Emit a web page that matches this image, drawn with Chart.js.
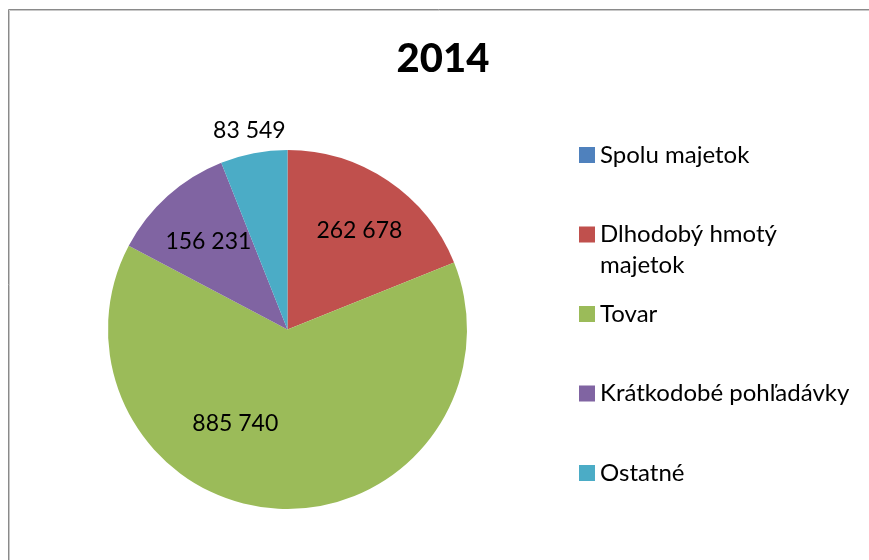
<!DOCTYPE html>
<html>
<head>
<meta charset="utf-8">
<script src="https://cdn.jsdelivr.net/npm/chart.js@4"></script>
<style>
  html, body { margin: 0; padding: 0; background: #fff; }
  #box { width: 869px; height: 560px; position: relative; }
</style>
</head>
<body>
<div id="box"><canvas id="pieChart" width="869" height="560"></canvas></div>
<script>
var chartTitle = "2014";
var categories = ["Spolu majetok", "Dlhodobý hmotý majetok", "Tovar", "Krátkodobé pohľadávky", "Ostatné"];
var legendLines = [["Spolu majetok"], ["Dlhodobý hmotý", "majetok"], ["Tovar"], ["Krátkodobé pohľadávky"], ["Ostatné"]];
var values = [0, 262678, 885740, 156231, 83549];
var valueLabels = ["", "262 678", "885 740", "156 231", "83 549"];
var colors = ["#4F81BD", "#C0504D", "#9BBB59", "#8064A2", "#4BACC6"];

// label placement relative to slice: [angle shift in degrees, radius factor]
var labelPlace = [[0, 0], [2, 0.68], [26, 0.6], [0, 0.66], [0, 1.13]];

var fontName = "Lato, 'Open Sans', sans-serif";

var decorPlugin = {
    id: "decor",
    beforeDraw: function (chart) {
        var ctx = chart.ctx;
        ctx.save();
        ctx.fillStyle = "#ffffff";
        ctx.fillRect(0, 0, chart.width, chart.height);
        ctx.strokeStyle = "#8a8a8a";
        ctx.lineWidth = 1;
        ctx.beginPath();
        ctx.moveTo(8.5, chart.height);
        ctx.lineTo(8.5, 9.5);
        ctx.lineTo(chart.width, 9.5);
        ctx.stroke();
        ctx.strokeStyle = "#c8c8c8";
        ctx.beginPath();
        ctx.moveTo(9.5, chart.height);
        ctx.lineTo(9.5, 10.5);
        ctx.lineTo(chart.width, 10.5);
        ctx.stroke();
        ctx.restore();
    },
    afterDraw: function (chart) {
        var ctx = chart.ctx;
        ctx.save();
        // title
        ctx.fillStyle = "#000";
        ctx.font = "900 40px " + fontName;
        ctx.textAlign = "center";
        ctx.textBaseline = "middle";
        ctx.fillText(chartTitle, 443, 59);

        // value labels
        ctx.font = "23px " + fontName;
        var meta = chart.getDatasetMeta(0);
        meta.data.forEach(function (arc, i) {
            if (!valueLabels[i]) return;
            var p = arc.getProps(["x", "y", "startAngle", "endAngle", "outerRadius"], true);
            var mid = (p.startAngle + p.endAngle) / 2 + labelPlace[i][0] * Math.PI / 180;
            var r = p.outerRadius * labelPlace[i][1];
            ctx.fillText(valueLabels[i], p.x + Math.cos(mid) * r, p.y + Math.sin(mid) * r);
        });

        // legend
        var lx = 579, ly = 155, step = 79.5;
        ctx.font = "24px " + fontName;
        ctx.textAlign = "left";
        legendLines.forEach(function (lines, i) {
            var y = ly + i * step;
            ctx.fillStyle = colors[i];
            ctx.fillRect(lx, y - 8, 16, 16);
            ctx.fillStyle = "#000";
            lines.forEach(function (t, k) {
                ctx.fillText(t, lx + 21, y + k * 31);
            });
        });
        ctx.restore();
    }
};

var pieChart = new Chart(document.getElementById("pieChart"), {
    type: "pie",
    data: {
        labels: categories,
        datasets: [{
            data: values,
            backgroundColor: colors,
            borderWidth: 0
        }]
    },
    options: {
        responsive: false,
        animation: false,
        layout: {
            padding: { top: 150, bottom: 51, left: 108, right: 402 }
        },
        plugins: {
            legend: { display: false },
            tooltip: { enabled: false },
            title: { display: false }
        }
    },
    plugins: [decorPlugin]
});
</script>
</body>
</html>
